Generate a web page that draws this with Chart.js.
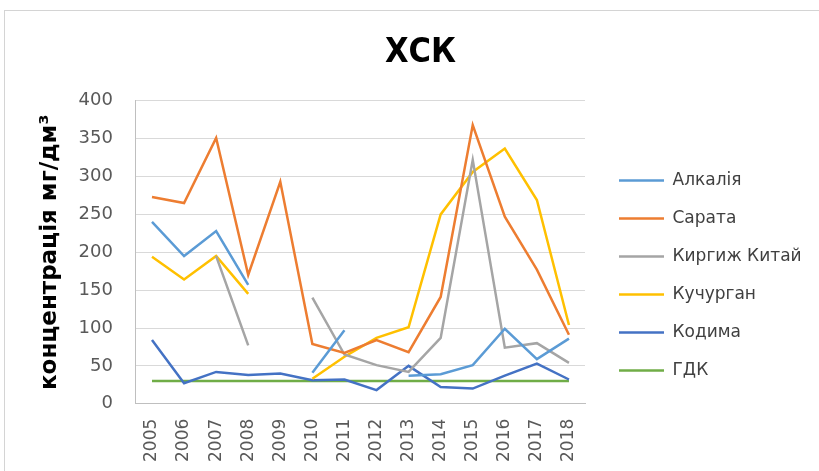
<!DOCTYPE html>
<html>
<head>
<meta charset="utf-8">
<script src="https://cdn.jsdelivr.net/npm/chart.js@4"></script>
<style>
  html, body { margin: 0; padding: 0; background: #fff; }
  .frame { position: absolute; left: 4px; top: 10px; width: 830px; height: 480px; border: 1px solid #d4d4d4; }
  .wrap { position: absolute; left: 0; top: 0; width: 819px; height: 471px; }
</style>
</head>
<body>
<div class="frame"></div>
<div class="wrap"><canvas id="myChart"></canvas></div>
<script>
// categories
const years = ["2005", "2006", "2007", "2008", "2009", "2010", "2011", "2012", "2013", "2014", "2015", "2016", "2017", "2018"];

// series (null = no measurement)
const alkaliya = [240, 195, 228, 157, null, 41, 97, null, 37, 39, 51, 99, 59, 86];
const sarata = [273, 265, 351, 170, 293, 79, 67, 84, 68, 141, 368, 247, 177, 91];
const kyrgyzh = [null, null, 195, 77, null, 140, 65, 51, 42, 87, 322, 74, 80, 54];
const kuchurgan = [194, 164, 195, 145, null, 33, 62, 87, 101, 250, 306, 337, 269, 104];
const kodyma = [84, 27, 42, 38, 40, 31, 32, 18, 50, 22, 20, 37, 53, 32];
const gdk = [30, 30, 30, 30, 30, 30, 30, 30, 30, 30, 30, 30, 30, 30];

const yTicks = [0, 50, 100, 150, 200, 250, 300, 350, 400];

function line(label, values, color) {
  return {
    label: label,
    data: values,
    borderColor: color,
    backgroundColor: color,
    borderWidth: 2.5,
    pointRadius: 0,
    tension: 0,
    spanGaps: false,
  };
}

const data = {
  labels: years,
  datasets: [
    line("Алкалія", alkaliya, "#5B9BD5"),
    line("Сарата", sarata, "#ED7D31"),
    line("Киргиж Китай", kyrgyzh, "#A5A5A5"),
    line("Кучурган", kuchurgan, "#FFC000"),
    line("Кодима", kodyma, "#4472C4"),
    line("ГДК", gdk, "#70AD47"),
  ],
};

const xPad = 15;
const yPad = 23;

// legend: fixed width, and items pushed a little away from the plot
const legendTweak = {
  id: "legendTweak",
  beforeLayout(chart) {
    const lg = chart.legend;
    if (lg && !lg._wrapped) {
      const fit = lg.fit;
      lg.fit = function () {
        fit.call(this);
        this.width = 224;
      };
      lg._wrapped = true;
    }
  },
  afterLayout(chart) {
    const lg = chart.legend;
    if (!lg) return;
    lg.left += 13;
    lg.right += 13;
    lg.top += 30;
    lg.bottom += 30;
  },
};

const config = {
  type: "line",
  data,
  plugins: [legendTweak],
  options: {
    responsive: true,
    maintainAspectRatio: false,
    animation: false,
    layout: { padding: { left: 32, right: 10, top: 29, bottom: 9 } },
    plugins: {
      title: {
        display: true,
        text: "ХСК",
        color: "#000",
        font: { family: "'Liberation Sans Narrow', 'DejaVu Sans Condensed', Arial, sans-serif", size: 34, weight: "bold" },
        padding: { top: 4, bottom: 27 },
      },
      legend: {
        position: "right",
        labels: {
          usePointStyle: true,
          pointStyle: "line",
          pointStyleWidth: 45,
          color: "#404040",
          font: { family: "'DejaVu Sans', sans-serif", size: 17 },
          padding: 21,
        },
      },
      tooltip: { enabled: false },
    },
    scales: {
      x: {
        offset: true,
        afterFit: (axis) => {
          axis.height -= xPad;
        },
        grid: { display: false, drawTicks: false },
        border: { color: "#bfbfbf" },
        ticks: {
          color: "#595959",
          font: { family: "'DejaVu Sans', sans-serif", size: 17 },
          minRotation: 90,
          maxRotation: 90,
          padding: xPad,
          autoSkip: false,
        },
      },
      y: {
        min: 0,
        max: 400,
        afterBuildTicks: (axis) => {
          axis.ticks = yTicks.map((v) => ({ value: v }));
        },
        afterFit: (axis) => {
          axis.width -= yPad;
        },
        grid: { color: "#d9d9d9", drawTicks: false },
        border: { color: "#bfbfbf" },
        ticks: { color: "#595959", font: { family: "'DejaVu Sans', sans-serif", size: 18 }, padding: yPad },
        title: {
          display: true,
          text: "концентрація мг/дм³",
          color: "#000",
          font: { family: "'DejaVu Sans', sans-serif", size: 23, weight: "bold" },
          padding: { top: 4, bottom: 15 },
        },
      },
    },
  },
};

const myChart = new Chart(document.getElementById("myChart"), config);
</script>
</body>
</html>
